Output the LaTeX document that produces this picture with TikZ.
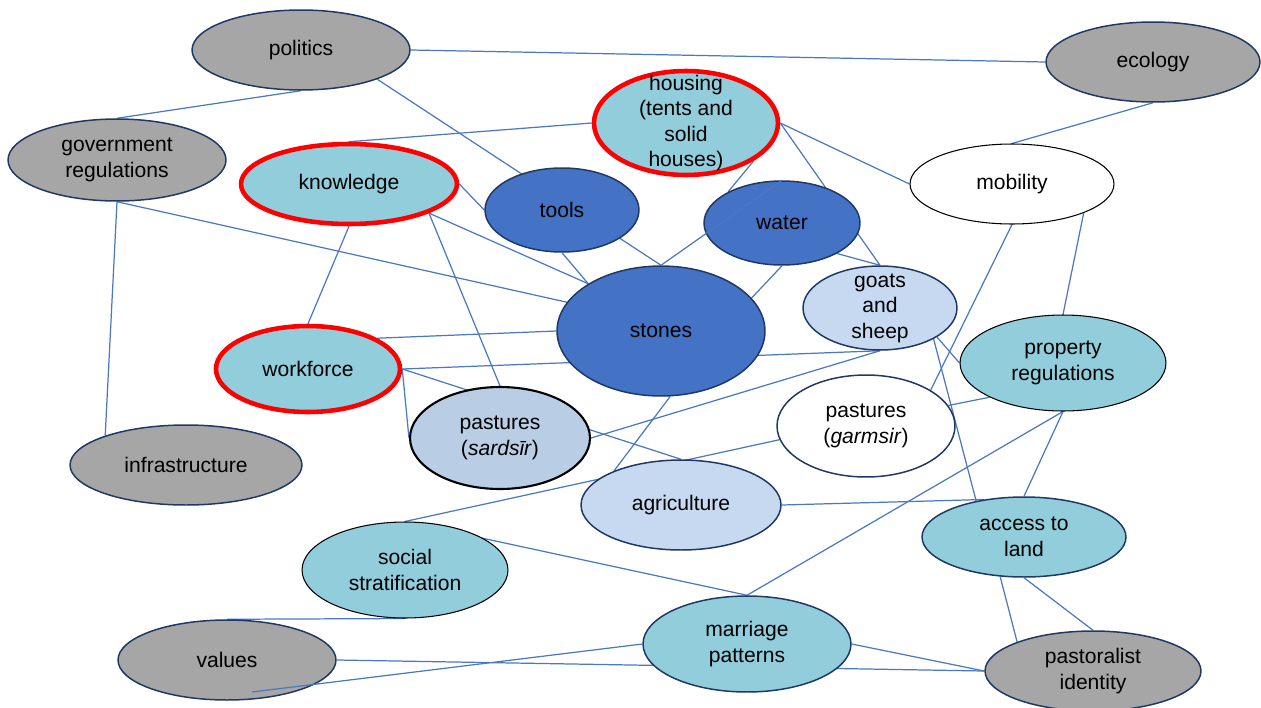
\documentclass[tikz,border=0pt]{standalone}
\usepackage{fontspec}
\setmainfont{Liberation Sans}
\usetikzlibrary{shapes.geometric,calc}

\definecolor{navy}{HTML}{203864}
\definecolor{greyfill}{HTML}{A6A6A6}
\definecolor{topiccyan}{HTML}{92CDDC}
\definecolor{coreblue}{HTML}{4472C4}
\definecolor{paleblue}{HTML}{C6D9F1}
\definecolor{sardfill}{HTML}{B9CDE5}
\definecolor{linkblue}{HTML}{4A78C2}

\pgfdeclarelayer{back}
\pgfsetlayers{back,main}

\begin{document}
\begin{tikzpicture}[x=0.02cm,y=-0.02cm,
	blob/.style={ellipse,draw=navy,line width=0.85pt,inner xsep=0pt,inner ysep=-8pt,align=center,font=\fontsize{12}{14.5}\selectfont},
	grey/.style={blob,fill=greyfill},
	topic/.style={blob,fill=topiccyan},
	core/.style={blob,fill=coreblue},
	pale/.style={blob,fill=paleblue},
	hot/.style={blob,fill=topiccyan,draw=red,line width=2.6pt},
	link/.style={draw=linkblue,line width=0.7pt}]

	\useasboundingbox (0,0) rectangle (1261,707);

	\node[grey,minimum width=4.36cm,minimum height=1.6cm] (politics) at (301,50) {politics};
	\node[grey,minimum width=4.28cm,minimum height=1.6cm] (ecology) at (1153,62) {ecology};
	\node[grey,minimum width=4.36cm,minimum height=1.64cm] (govreg) at (117,160) {government\\regulations};
	\node[grey,minimum width=4.64cm,minimum height=1.6cm] (infra) at (186,465) {infrastructure};
	\node[grey,minimum width=4.36cm,minimum height=1.6cm] (values) at (227,660) {values};
	\node[grey,minimum width=4.32cm,minimum height=1.6cm] (pastor) at (1093,671) {pastoralist\\identity};

	\node[hot,minimum width=4.32cm,minimum height=1.6cm] (knowledge) at (349,184) {knowledge};
	\node[hot,minimum width=3.68cm,minimum height=2.08cm,inner ysep=-12pt] (housing) at (686,123) {housing\\(tents and\\solid\\houses)};
	\node[hot,minimum width=3.68cm,minimum height=1.72cm] (workforce) at (308,369) {workforce};

	\node[core,minimum width=3.08cm,minimum height=1.68cm] (tools) at (562,210) {tools};
	\node[core,minimum width=3.12cm,minimum height=1.68cm] (water) at (782,223) {water};
	\node[core,minimum width=4.16cm,minimum height=2.6cm] (stones) at (661,331) {stones};

	\node[pale,minimum width=3.08cm,minimum height=1.68cm] (goats) at (880,308) {goats\\and\\sheep};
	\node[pale,minimum width=4cm,minimum height=1.8cm] (agri) at (681,505) {agriculture};
	\node[blob,fill=sardfill,draw=black,line width=1.2pt,minimum width=3.6cm,minimum height=2.04cm] (sardsir) at (500,438) {pastures\\(\textit{sardsīr})};

	\node[blob,fill=white,draw=black,line width=0.6pt,minimum width=4.08cm,minimum height=1.6cm] (mobility) at (1012,184) {mobility};
	\node[blob,fill=white,minimum width=3.56cm,minimum height=2.04cm] (garmsir) at (866,426) {pastures\\(\textit{garmsir})};

	\node[topic,draw=black,line width=0.6pt,minimum width=4.12cm,minimum height=1.92cm] (property) at (1063,363) {property\\regulations};
	\node[topic,draw=black,line width=0.6pt,minimum width=4.12cm,minimum height=1.92cm] (social) at (405,570) {social\\stratification};
	\node[topic,minimum width=4.08cm,minimum height=1.6cm] (access) at (1024,537) {access to\\land};
	\node[topic,minimum width=4.16cm,minimum height=1.92cm] (marriage) at (747,644) {marriage\\patterns};

	\begin{pgfonlayer}{back}
	\draw[link] (politics.east) -- (ecology.west);
	\draw[link] (politics.south) -- (govreg.north);
	\draw[link] (politics.339) -- (stones.north);
	\draw[link] (housing.west) -- (knowledge.north);
	\draw[link] (housing.east) -- (mobility.west);
	\draw[link] (housing.east) -- (goats.north);
	\draw[link] (housing.331) -- (water.150);
	\draw[link] (water.south) -- (stones.20);
	\draw[link] (water.331) -- (goats.north);
	\draw[link] (knowledge.east) -- (tools.west);
	\draw[link] (tools.south) -- (stones.147);
	\draw[link] (knowledge.340) -- (stones.147);
	\draw[link] (govreg.south) -- (stones.163);
	\draw[link] (govreg.south) -- (infra.160);
	\draw[link] (knowledge.south) -- (workforce.north);
	\draw[link] (knowledge.340) -- (sardsir.north);
	\draw[link] (workforce.24) -- (stones.west);
	\draw[link] (workforce.east) -- (goats.south);
	\draw[link] (workforce.east) -- (agri.north);
	\draw[link] (workforce.east) -- (sardsir.west);
	\draw[link] (sardsir.east) -- (goats.south);
	\draw[link] (stones.278) -- (agri.153);
	\draw[link] (goats.333) -- (property.west);
	\draw[link] (goats.330) -- (access.143);
	\draw[link] (mobility.south) -- (garmsir.29);
	\draw[link] (mobility.338) -- (property.north);
	\draw[link] (ecology.south) -- (mobility.north);
	\draw[link] (garmsir.14) -- (property.205);
	\draw[link] (property.south) -- (marriage.north);
	\draw[link] (property.south) -- (access.north);
	\draw[link] (agri.east) -- (access.137);
	\draw[link] (social.north) -- (garmsir.189);
	\draw[link] (social.north) -- (marriage.north);
	\draw[link] (social.south) -- (values.north);
	\draw[link] (values.east) -- (pastor.west);
	\draw[link] (marriage.east) -- (pastor.west);
	\draw[link] (access.239) -- (pastor.159);
	\draw[link] (access.south) -- (pastor.north);
	\end{pgfonlayer}

	\draw[link] (stones.north) -- (water.north);
	\coordinate (valtail) at ($(values.center)+(25,32)$);
	\draw[link] (valtail) -- (marriage.west);

\end{tikzpicture}
\end{document}
